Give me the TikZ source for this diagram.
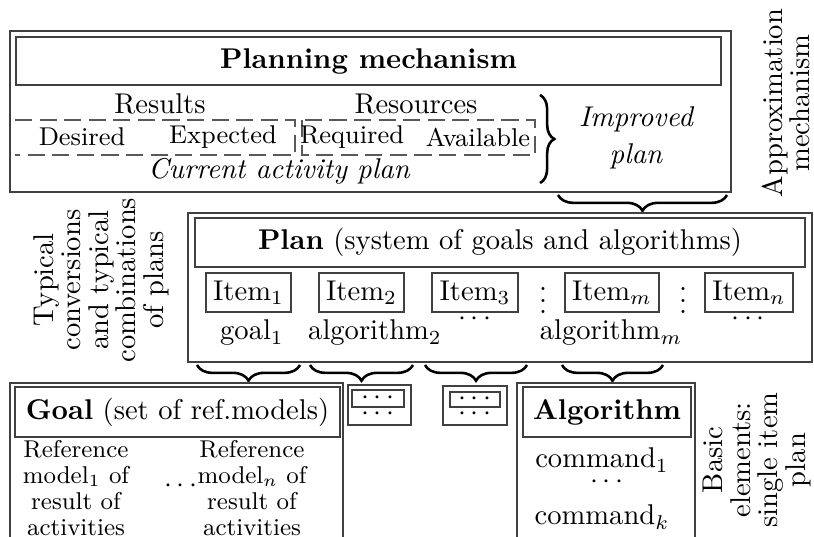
\documentclass[tikz,border=0pt]{standalone}
\usepackage{tikz}
\usetikzlibrary{positioning, fit, decorations.pathreplacing}

\begin{document}
\begin{tikzpicture}[x=0.35pt,y=-0.35pt,
        box/.style={draw=black!75,line width=0.7pt,inner sep=0pt},
        itembox/.style={draw=black!75,line width=0.7pt,inner sep=2.5pt,minimum height=13.6pt},
        dashline/.style={draw=black!65,line width=0.6pt,dash pattern=on 6pt off 2.6pt},
        bracedown/.style={decorate,decoration={brace,mirror,amplitude=5.5pt},line width=0.9pt},
        braceright/.style={decorate,decoration={brace,amplitude=5pt},line width=0.9pt},
        side/.style={rotate=90,align=center,font={\linespread{0.8}\selectfont}},
        refcol/.style={align=center,font={\fontsize{8.5}{9}\selectfont}}]
    \clip (0,0) rectangle (814,537);

    % planning mechanism
    \node[box,fit={(10,31) (731,192)}] (mech) {};
    \node[box,fit={(16,37) (721,85)}] (mechtitle) {};
    \node[font=\bfseries] (mechlabel) at (mechtitle) {Planning mechanism};
    \node (results) at (160,104) {Results};
    \node (resources) at (416,104) {Resources};
    \draw[dashline] (15,120) -- (295,120) -- (295,155) -- (15,155);
    \draw[dashline] (302,120) rectangle (535,155);
    \node[font=\small] (desired) at (82,137) {Desired};
    \node[font=\small] (expected) at (223,137) {Expected};
    \node[font=\small] (required) at (352,137) {Required};
    \node[font=\small] (available) at (478,137) {Available};
    \node[font=\itshape] (current) at (279,171) {Current activity plan};
    \draw[braceright] (540,95) -- (540,183);
    \node[align=center,font=\itshape] (improved) at (636,138) {Improved\\[1pt]plan};
    \node[side] (approx) at (786,103) {Approximation\\mechanism};
    \draw[bracedown] (558,195) -- (727,195);

    % plan
    \node[side] (typical) at (101,280) {Typical\\conversions\\and typical\\combinations\\of plans};
    \node[box,fit={(188,213) (812,362)}] (plan) {};
    \node[box,fit={(195,218) (805,267)}] (plantitle) {};
    \node (planlabel) at (plantitle) {\textbf{Plan} (system of goals and algorithms)};
    \node[itembox] (item1) at (248.5,292.5) {Item$_1$};
    \node[itembox] (item2) at (361.5,292.5) {Item$_2$};
    \node[itembox] (item3) at (475,292.5) {Item$_3$};
    \node (vdots1) at (543,292) {$\vdots$};
    \node[itembox] (itemm) at (612,292.5) {Item$_m$};
    \node (vdots2) at (683,292) {$\vdots$};
    \node[itembox] (itemn) at (749,292.5) {Item$_n$};
    \node (goal1) at (252,333) {goal$_1$};
    \node (alg2) at (375,333) {algorithm$_2$};
    \node (dots3) at (475,319) {$\cdots$};
    \node (algm) at (611,333) {algorithm$_m$};
    \node (dotsn) at (748,319) {$\cdots$};
    \draw[bracedown] (197,365) -- (300,365);
    \draw[bracedown] (310,365) -- (413,365);
    \draw[bracedown] (425,365) -- (527,365);
    \draw[bracedown] (562,365) -- (663,365);

    % goal
    \node[box,fit={(10,383) (343,560)}] (goal) {};
    \node[box,fit={(15,387) (340,437)}] (goaltitle) {};
    \node (goallabel) at (goaltitle) {\textbf{Goal} (set of ref.models)};
    \node[refcol] (ref1) at (76,488) {Reference\\model$_1$ of\\result of\\activities};
    \node[refcol] (refn) at (252,488) {Reference\\model$_n$ of\\result of\\activities};
    \node (refdots) at (181,486) {$\cdots$};

    % other items
    \node[box,fit={(348,385) (411,425)}] (other1) {};
    \node[box,fit={(352,390) (404,407)}] (other1title) {};
    \node (other1dots) at (other1title) {$\cdots$};
    \node (other1low) at (378,414) {$\cdots$};
    \node[box,fit={(443,386) (507,425)}] (other2) {};
    \node[box,fit={(450,392) (500,407)}] (other2title) {};
    \node (other2dots) at (other2title) {$\cdots$};
    \node (other2low) at (475,414) {$\cdots$};

    % algorithm
    \node[box,fit={(517,383) (695,560)}] (alg) {};
    \node[box,fit={(523,387) (691,437)}] (algtitle) {};
    \node[font=\bfseries] (alglabel) at (algtitle) {Algorithm};
    \node (cmd1) at (602,460) {command$_1$};
    \node (cmddots) at (607,482) {$\cdots$};
    \node (cmdk) at (602,517) {command$_k$};
    \node[side] (basic) at (757,460) {Basic\\elements:\\single item\\plan};
\end{tikzpicture}
\end{document}
